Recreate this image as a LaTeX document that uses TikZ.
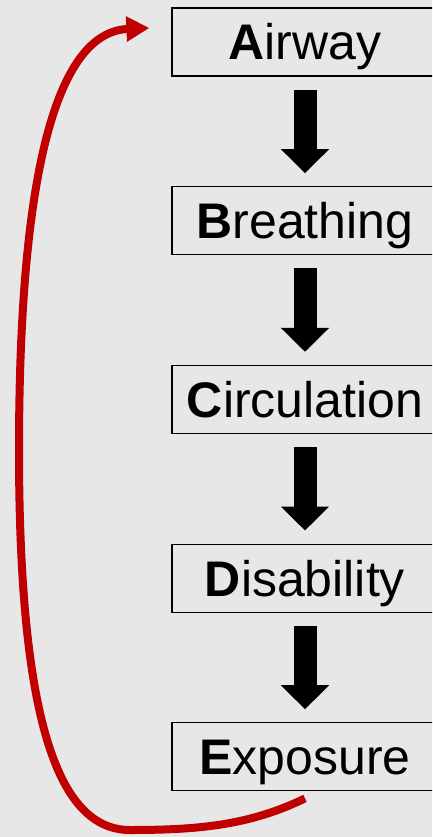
\documentclass[tikz,border=0pt]{standalone}
\usepackage{fontspec}
\setmainfont{Liberation Sans}
\usetikzlibrary{arrows.meta, positioning}
\definecolor{bggray}{HTML}{E7E7E7}
\definecolor{loopred}{HTML}{C00000}

\begin{document}
\begin{tikzpicture}[x=1pt, y=-1pt, node distance=109.5pt,
  stage/.style={draw, line width=1.2pt, minimum width=266pt, minimum height=68pt,
    font=\fontsize{50}{50}\selectfont, text height=36pt, text depth=0pt},
  flow/.style={line width=23pt, -{Triangle[length=24pt,width=47pt]},
    shorten <=13pt, shorten >=13pt},
  back/.style={loopred, line width=8pt, -{Triangle[length=23pt,width=24pt]}}]

% background and page
  \fill[bggray] (0,0) rectangle (432,837);
  \useasboundingbox (0,0) rectangle (432,837);
  \clip (0,0) rectangle (432,837);

% define the stages
  \node[stage] (airway)  at (305,42)    {{\bfseries A}irway};
  \node[stage] (breathing)   [below=of airway]      {{\bfseries B}reathing};
  \node[stage] (circulation) [below=of breathing]   {{\bfseries C}irculation};
  \node[stage] (disability)  [below=of circulation] {{\bfseries D}isability};
  \node[stage] (exposure)    [below=of disability]  {{\bfseries E}xposure};

% define the links
  \draw[flow] (airway) -- (breathing);
  \draw[flow] (breathing) -- (circulation);
  \draw[flow] (circulation) -- (disability);
  \draw[flow] (disability) -- (exposure);

  \draw[back] ([yshift=-7pt]exposure.south)
      .. controls (250,825) and (200,830) .. (130,830)
      .. controls (58,830) and (19,720) .. (19,450)
      .. controls (19,160) and (60,32) .. ([xshift=-22pt,yshift=14pt]airway.west);

\end{tikzpicture}
\end{document}
